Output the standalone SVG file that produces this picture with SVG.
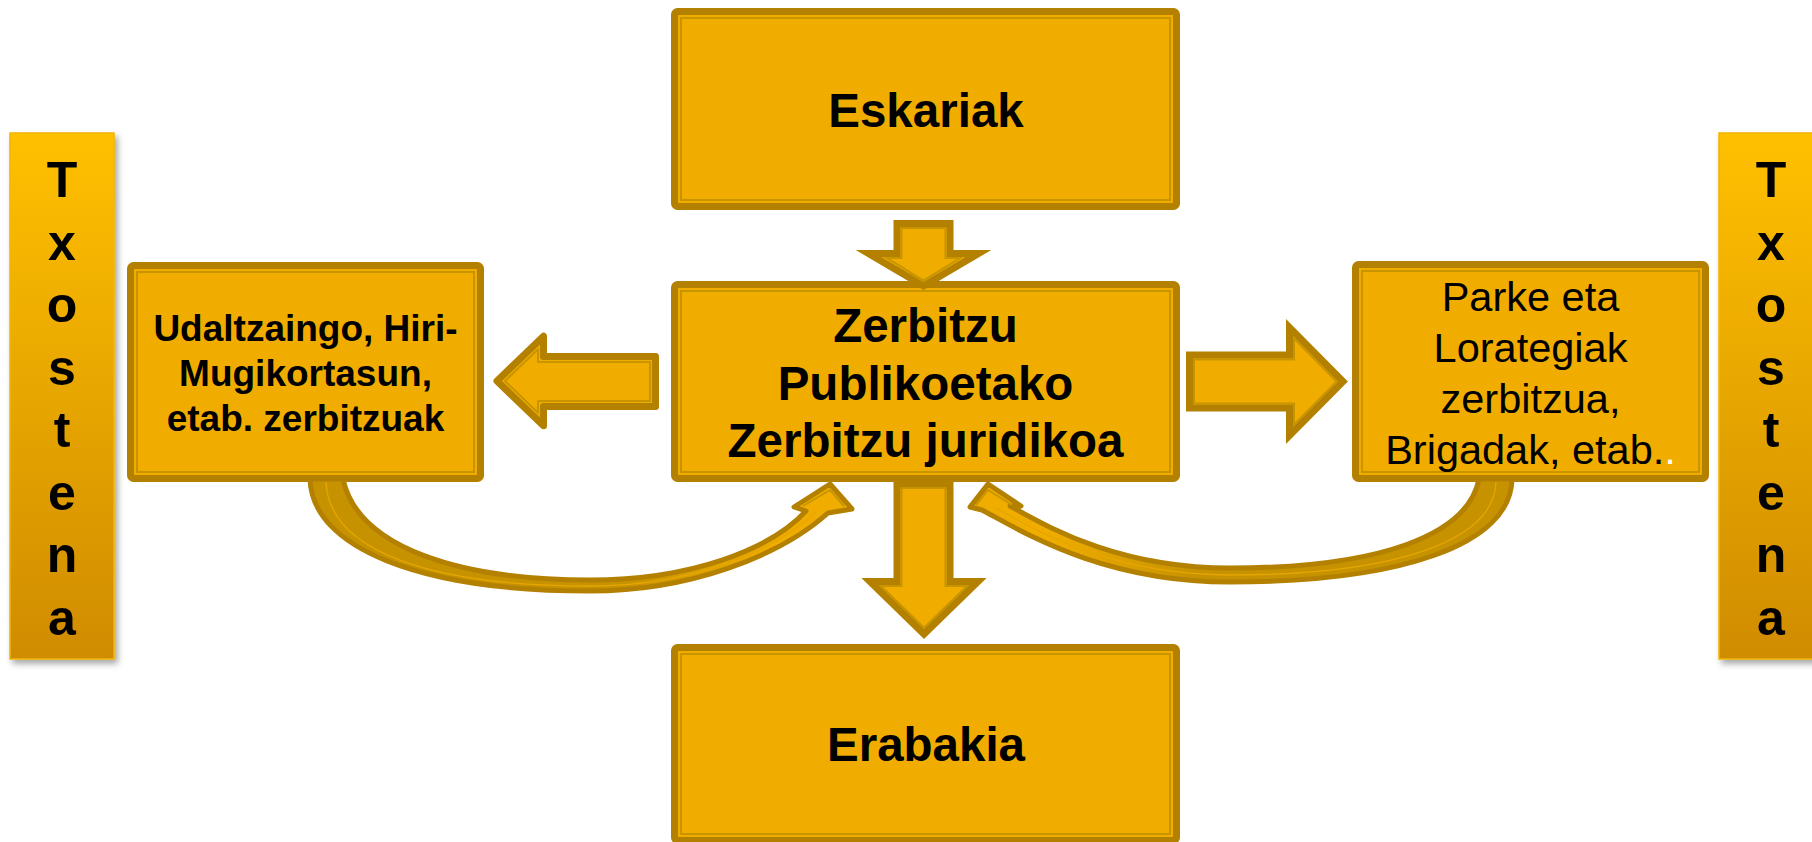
<svg xmlns="http://www.w3.org/2000/svg" width="1812" height="842" viewBox="0 0 1812 842">
<defs>
<linearGradient id="barGrad" x1="0" y1="0" x2="0" y2="1">
<stop offset="0" stop-color="#FFC000"/>
<stop offset="1" stop-color="#D08C00"/>
</linearGradient>
<linearGradient id="bandL" gradientUnits="userSpaceOnUse" x1="310" y1="0" x2="835" y2="0">
<stop offset="0" stop-color="#C69200"/>
<stop offset="0.6" stop-color="#C69200"/>
<stop offset="0.88" stop-color="#F0AD00"/>
</linearGradient>
<linearGradient id="bandR" gradientUnits="userSpaceOnUse" x1="1512" y1="0" x2="985" y2="0">
<stop offset="0" stop-color="#C69200"/>
<stop offset="0.6" stop-color="#C69200"/>
<stop offset="0.88" stop-color="#F0AD00"/>
</linearGradient>
<filter id="shadow" x="-20%" y="-10%" width="140%" height="120%">
<feDropShadow dx="3" dy="4" stdDeviation="3" flood-color="#000" flood-opacity="0.35"/>
</filter>
</defs>
<style>
.bar{fill:url(#barGrad);stroke:#F2B400;stroke-width:1.5;filter:url(#shadow)}
.box{fill:#F0AD00;stroke:#B38000;stroke-width:7}
.boxin{fill:none;stroke:#C89400;stroke-width:2}
.arr{fill:#F0AD00;stroke:#B38000;stroke-width:7}
.arrin{fill:none;stroke:#C89400;stroke-width:2}
.band{stroke:#B38000;stroke-width:5;stroke-linejoin:round}
.bandin{fill:none;stroke:#E6A600;stroke-width:1.3}
.t{font-family:"Liberation Sans",Arial,sans-serif;fill:#000;text-anchor:middle}
.b{font-weight:bold}
.bl{font-family:"Liberation Sans",Arial,sans-serif;font-weight:bold;font-size:50px;fill:#000;text-anchor:middle}
</style>

<g id="txostena-left">
<rect class="bar" x="10" y="133" width="104" height="526"/>
<text class="bl"><tspan x="62" y="197">T</tspan><tspan x="62" y="259.5">x</tspan><tspan x="62" y="322">o</tspan><tspan x="62" y="384.5">s</tspan><tspan x="62" y="447">t</tspan><tspan x="62" y="509.5">e</tspan><tspan x="62" y="572">n</tspan><tspan x="62" y="634.5">a</tspan></text>
</g>

<g id="txostena-right">
<rect class="bar" x="1719" y="133" width="104" height="526"/>
<text class="bl"><tspan x="1771" y="197">T</tspan><tspan x="1771" y="259.5">x</tspan><tspan x="1771" y="322">o</tspan><tspan x="1771" y="384.5">s</tspan><tspan x="1771" y="447">t</tspan><tspan x="1771" y="509.5">e</tspan><tspan x="1771" y="572">n</tspan><tspan x="1771" y="634.5">a</tspan></text>
</g>

<g id="eskariak">
<rect class="box" x="674.5" y="11.5" width="502" height="195" rx="3"/>
<rect class="boxin" x="681" y="18" width="489" height="182"/>
<text class="t b" x="926" y="127" font-size="47.5">Eskariak</text>
</g>

<g id="zerbitzu-juridikoa">
<rect class="box" x="674.5" y="284.5" width="502" height="194" rx="3"/>
<rect class="boxin" x="681" y="291" width="489" height="181"/>
<text class="t b" font-size="47.5"><tspan x="925.5" y="342">Zerbitzu</tspan><tspan x="925.5" y="400">Publikoetako</tspan><tspan x="925.5" y="457">Zerbitzu juridikoa</tspan></text>
</g>

<g id="erabakia">
<rect class="box" x="674.5" y="647.5" width="502" height="193" rx="3"/>
<rect class="boxin" x="681" y="654" width="489" height="180"/>
<text class="t b" x="926" y="761" font-size="47.5">Erabakia</text>
</g>

<g id="udaltzaingo">
<rect class="box" x="130.5" y="265.5" width="350" height="213" rx="3"/>
<rect class="boxin" x="137" y="272" width="337" height="200"/>
<text class="t b" font-size="37"><tspan x="305.5" y="341">Udaltzaingo, Hiri-</tspan><tspan x="305.5" y="386">Mugikortasun,</tspan><tspan x="305.5" y="431">etab. zerbitzuak</tspan></text>
</g>

<g id="parke-lorategiak">
<rect class="box" x="1355.5" y="264.5" width="350" height="214" rx="3"/>
<rect class="boxin" x="1362" y="271" width="337" height="201"/>
<text class="t" font-size="41.5"><tspan x="1530.5" y="311">Parke eta</tspan><tspan x="1530.5" y="362">Lorategiak</tspan><tspan x="1530.5" y="413">zerbitzua,</tspan><tspan x="1530.5" y="464">Brigadak, etab.<tspan fill="#FFFFFF">.</tspan></tspan></text>
</g>

<g id="connectors">
<!-- Eskariak -> center -->
<path class="arr" stroke-linejoin="miter" d="M897,223.5 L950,223.5 L950,253.5 L978.5,253.5 L923.5,286 L868.5,253.5 L897,253.5 Z"/>
<path class="arrin" d="M901.5,228 L945.5,228 L945.5,258 L960,258 L923.5,280.7 L887,258 L901.5,258 Z"/>
<!-- center -> Erabakia -->
<path class="arr" stroke-linejoin="miter" d="M897,485.5 L950,485.5 L950,581.5 L978,581.5 L924,634 L870,581.5 L897,581.5 Z"/>
<path class="arrin" d="M901.5,488 L945.5,488 L945.5,586 L967,586 L924,627.8 L881,586 L901.5,586 Z"/>
<!-- center -> left -->
<path class="arr" stroke-linejoin="round" d="M497,381 L543.5,336.2 L543.5,356.5 L655.5,356.5 L655.5,406.5 L543.5,406.5 L543.5,425.8 Z"/>
<path class="arrin" stroke-linejoin="round" d="M505,381 L538,349.2 L538,362 L650,362 L650,401 L538,401 L538,412.8 Z"/>
<!-- center -> right -->
<path class="arr" stroke-linejoin="miter" d="M1189.5,355 L1289.5,355 L1289.5,327.5 L1343,381.5 L1289.5,435.5 L1289.5,408 L1189.5,408 Z"/>
<path class="arrin" d="M1194,359.5 L1294,359.5 L1294,338.4 L1336.7,381.5 L1294,424.6 L1294,403.5 L1194,403.5 Z"/>
<!-- left box -> center (curved) -->
<path class="band" fill="url(#bandL)" d="M310,479 C312,548 420,591 590,591 C690,591 780,556 828,513 L852,509 L830,484 L794,507 L806,511 C770,550 690,580 590,580 C460,580 358,548 343,479 Z"/>
<path class="bandin" d="M326,482 C329,551 430,586 590,586 C690,586 772,553 816,512"/>
<path class="arrin" stroke-width="1.5" d="M803,506 L830,490 L844,506"/>
<!-- right box -> center (curved) -->
<path class="band" fill="url(#bandR)" d="M1512,479 C1511,545 1400,582 1230,582 C1100,582 1020,530 982,510 L970,507 L988,484 L1021,506 L1010,506 C1045,525 1115,568 1230,568 C1380,568 1468,535 1479,479 Z"/>
<path class="bandin" d="M1496,482 C1494,543 1390,575 1230,575 C1110,575 1035,530 996,508"/>
<path class="arrin" stroke-width="1.5" d="M976,505 L988,490 L1012,505"/>
</g>
</svg>
